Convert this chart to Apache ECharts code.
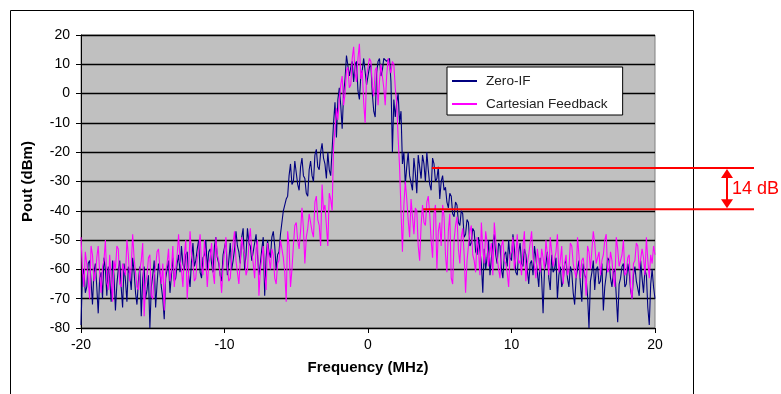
<!DOCTYPE html>
<html>
<head>
<meta charset="utf-8">
<script src="https://cdn.jsdelivr.net/npm/echarts@6/dist/echarts.min.js"></script>
<style>
html,body{margin:0;padding:0;background:#fff;}
#chart{width:781px;height:394px;}
</style>
</head>
<body>
<div id="chart"></div>
<script>
// Frequency sample grid (MHz): -20 .. 20 in 0.1 MHz steps
const freqStart = -20, freqStep = 0.1;
const xTicks = [-20, -10, 0, 10, 20];
const yTicks = [20, 10, 0, -10, -20, -30, -40, -50, -60, -70, -80];

// Zero-IF spectrum (dBm), one row per MHz
const zeroIF = [
-79,-62,-60,-68,-66,-58,-57,-64,-72,-61,
-58,-66,-75,-63,-61,-70,-56,-60,-69,-59,
-63,-71,-57,-62,-74,-65,-60,-57,-66,-73,
-58,-64,-71,-59,-62,-67,-56,-61,-68,-72,
-64,-59,-76,-63,-59,-70,-67,-62,-80,-66,
-62,-57,-73,-65,-58,-61,-66,-70,-77,-63,
-60,-57,-68,-62,-56,-64,-63,-58,-55,-61,
-52,-58,-60,-55,-54,-62,-66,-57,-51,-59,
-57,-53,-50,-61,-63,-56,-55,-50,-60,-54,
-53,-58,-61,-52,-49,-56,-58,-62,-64,-55,
-55,-50,-62,-57,-51,-60,-57,-53,-47,-52,
-54,-58,-49,-46,-60,-55,-46,-51,-52,-57,
-57,-51,-48,-55,-62,-58,-53,-49,-69,-56,
-50,-54,-56,-49,-47,-52,-60,-55,-54,-48,
-44,-40,-40,-36,-35,-28,-24,-31,-30,-23,
-27,-31,-33,-25,-22,-28,-29,-34,-35,-26,
-23,-28,-30,-21,-19,-25,-26,-20,-17,-22,
-24,-29,-20,-26,-28,-19,-10,-3,-15,-2,
2,-4,-12,0,5,13,13,6,9,11,
4,10,11,1,-2,6,8,12,12,3,
3,9,10,0,-6,-8,7,11,12,6,
8,12,12,11,11,12,4,-20,-2,-8,
-3,0,-10,-6,-24,-20,-31,-25,-20,-28,
-28,-33,-22,-27,-34,-21,-25,-29,-21,-24,
-30,-20,-26,-31,-33,-22,-24,-30,-29,-25,
-36,-30,-28,-33,-32,-37,-39,-34,-35,-41,
-42,-37,-38,-44,-45,-40,-41,-49,-48,-43,
-44,-52,-51,-46,-47,-54,-55,-49,-49,-58,
-68,-53,-60,-56,-50,-62,-56,-51,-48,-55,
-58,-51,-52,-60,-63,-55,-54,-59,-50,-56,
-57,-48,-53,-61,-62,-54,-51,-58,-59,-53,
-55,-60,-65,-58,-57,-62,-52,-56,-61,-66,
-56,-63,-75,-60,-58,-54,-63,-67,-55,-61,
-60,-56,-70,-62,-59,-66,-64,-58,-57,-63,
-66,-59,-61,-68,-72,-63,-60,-57,-65,-71,
-58,-62,-63,-69,-80,-64,-61,-57,-67,-60,
-59,-65,-64,-58,-74,-66,-62,-56,-57,-63,
-66,-61,-60,-69,-78,-65,-63,-59,-58,-66,
-65,-58,-61,-67,-70,-62,-59,-64,-64,-69,
-57,-63,-68,-60,-62,-73,-79,-65,-60,-66,
-70
];

// Cartesian Feedback spectrum (dBm), one row per MHz
const cartesian = [
-49,-60,-66,-54,-58,-63,-70,-52,-55,-64,
-62,-56,-52,-61,-68,-59,-57,-50,-64,-67,
-55,-63,-71,-57,-60,-52,-53,-65,-66,-58,
-58,-62,-50,-55,-64,-59,-48,-56,-61,-66,
-67,-60,-57,-51,-76,-65,-62,-56,-55,-69,
-70,-62,-59,-54,-53,-60,-65,-58,-74,-61,
-58,-53,-64,-60,-52,-66,-60,-55,-48,-57,
-60,-66,-55,-50,-70,-61,-47,-55,-58,-64,
-63,-56,-53,-48,-59,-62,-50,-57,-66,-58,
-56,-51,-61,-65,-49,-55,-57,-62,-68,-59,
-54,-49,-59,-64,-63,-56,-51,-47,-57,-61,
-65,-57,-49,-53,-55,-62,-60,-51,-46,-54,
-58,-63,-53,-50,-69,-60,-56,-52,-62,-67,
-51,-56,-60,-53,-55,-63,-65,-58,-57,-50,
-50,-56,-61,-71,-47,-52,-66,-60,-52,-45,
-44,-50,-53,-47,-39,-46,-58,-49,-46,-41,
-41,-47,-49,-37,-35,-43,-45,-52,-31,-40,
-38,-45,-52,-34,-36,-40,-18,-12,-5,-9,
-2,3,6,-4,0,8,9,2,3,12,
16,7,4,12,17,5,8,-3,-10,6,
6,12,11,3,-1,8,9,-4,4,10,
10,2,-4,6,12,9,7,11,10,2,
-3,-15,-25,-40,-54,-38,-30,-36,-43,-49,
-36,-42,-48,-39,-40,-52,-57,-45,-38,-44,
-45,-37,-35,-41,-50,-56,-41,-38,-60,-47,
-44,-52,-38,-42,-55,-61,-47,-41,-63,-65,
-50,-45,-42,-53,-58,-49,-46,-55,-68,-57,
-52,-47,-45,-55,-57,-61,-49,-53,-62,-44,
-53,-58,-47,-51,-59,-54,-51,-62,-44,-50,
-56,-60,-63,-52,-50,-57,-58,-61,-66,-55,
-54,-49,-60,-56,-48,-58,-57,-62,-52,-47,
-64,-58,-55,-51,-47,-56,-59,-63,-53,-57,
-61,-53,-56,-60,-50,-55,-62,-49,-54,-59,
-59,-54,-48,-61,-57,-52,-65,-58,-55,-62,
-60,-51,-52,-58,-58,-63,-49,-55,-63,-57,
-56,-61,-69,-52,-54,-60,-60,-47,-51,-58,
-58,-54,-62,-57,-55,-50,-48,-61,-60,-54,
-57,-63,-66,-49,-53,-59,-59,-55,-50,-62,
-61,-56,-55,-66,-70,-58,-57,-51,-52,-60,
-60,-53,-56,-62,-49,-57,-63,-55,-58,-52,
-55
];

// Annotation: suppression between the two curves
const annotUpper = -25.4, annotUpperStart = 4.45;
const annotLower = -39.5, annotLowerStart = 3.85;
const annotLabel = '14 dB';

const seriesNames = ['Zero-IF', 'Cartesian Feedback'];

function pairs(vals){
  const out = [];
  for (let i = 0; i < vals.length; i++) {
    out.push([+(freqStart + i*freqStep).toFixed(2), vals[i]]);
  }
  return out;
}

const chart = echarts.init(document.getElementById('chart'), null, {renderer:'canvas'});
const font = 'Arial, "Liberation Sans", sans-serif';
chart.setOption({
  animation:false,
  backgroundColor:'#ffffff',
  textStyle:{fontFamily:font},
  grid:{left:81, right:126, top:35, bottom:66, show:true, backgroundColor:'#c0c0c0', borderColor:'#808080', borderWidth:1, containLabel:false},
  legend:{
    show:true, orient:'vertical', left:447, top:67,
    backgroundColor:'#ffffff', borderColor:'#000000', borderWidth:1,
    padding:[6,15,3,5], itemGap:7, itemWidth:25, itemHeight:2,
    icon:'rect',
    textStyle:{fontFamily:font, fontSize:13.6, color:'#222', lineHeight:16, padding:[0,0,0,4]},
    data:seriesNames
  },
  xAxis:{
    type:'value', min:xTicks[0], max:xTicks[xTicks.length-1], interval:10,
    name:'Frequency (MHz)', nameLocation:'middle', nameGap:32,
    nameTextStyle:{fontFamily:font, fontWeight:'bold', fontSize:15, color:'#000'},
    axisLine:{show:true, onZero:false, lineStyle:{color:'#000', width:1}},
    axisTick:{show:true, inside:false, length:5, lineStyle:{color:'#000'}},
    axisLabel:{fontFamily:font, fontSize:14, color:'#000', margin:10},
    splitLine:{show:false}
  },
  yAxis:{
    type:'value', min:yTicks[yTicks.length-1], max:yTicks[0], interval:10,
    name:'Pout (dBm)', nameLocation:'middle', nameGap:46, nameRotate:90,
    nameTextStyle:{fontFamily:font, fontWeight:'bold', fontSize:15, color:'#000'},
    axisLine:{show:true, onZero:false, lineStyle:{color:'#000', width:1}},
    axisTick:{show:true, inside:false, length:5, lineStyle:{color:'#000'}},
    axisLabel:{fontFamily:font, fontSize:14, color:'#000', margin:11},
    splitLine:{show:true, lineStyle:{color:'#000', width:1.3}}
  },
  series:[
    {name:seriesNames[0], type:'line', data:pairs(zeroIF), showSymbol:false, symbol:'none',
     lineStyle:{color:'#000080', width:1.1}, itemStyle:{color:'#000080'}, z:2},
    {name:seriesNames[1], type:'line', data:pairs(cartesian), showSymbol:false, symbol:'none',
     lineStyle:{color:'#ff00ff', width:1.1}, itemStyle:{color:'#ff00ff'}, z:3}
  ]
});

// Red annotation lines, arrow and label placed with the chart's own scales
const pU = chart.convertToPixel({gridIndex:0}, [annotUpperStart, annotUpper]);
const pL = chart.convertToPixel({gridIndex:0}, [annotLowerStart, annotLower]);
const lineEnd = 754, arrowX = 727, head = 9, headW = 6;
chart.setOption({
  graphic:[
    {type:'rect', shape:{x:10.5, y:10.5, width:683, height:400}, style:{fill:null, stroke:'#000', lineWidth:1}, z:0, silent:true},
    {type:'line', shape:{x1:pU[0], y1:pU[1], x2:lineEnd, y2:pU[1]}, style:{stroke:'#ff0000', lineWidth:2}, z:100},
    {type:'line', shape:{x1:pL[0], y1:pL[1], x2:lineEnd, y2:pL[1]}, style:{stroke:'#ff0000', lineWidth:2}, z:100},
    {type:'line', shape:{x1:arrowX, y1:pU[1]+head, x2:arrowX, y2:pL[1]-head}, style:{stroke:'#ff0000', lineWidth:2}, z:100},
    {type:'polygon', shape:{points:[[arrowX, pU[1]+1],[arrowX-headW, pU[1]+head+1],[arrowX+headW, pU[1]+head+1]]}, style:{fill:'#ff0000'}, z:100},
    {type:'polygon', shape:{points:[[arrowX, pL[1]-1],[arrowX-headW, pL[1]-head-1],[arrowX+headW, pL[1]-head-1]]}, style:{fill:'#ff0000'}, z:100},
    {type:'text', x:arrowX+5, y:(pU[1]+pL[1])/2, style:{text:annotLabel, fill:'#ff0000', font:'18px Arial, "Liberation Sans", sans-serif', textVerticalAlign:'middle', verticalAlign:'middle'}, z:100}
  ]
});
</script>
</body>
</html>
